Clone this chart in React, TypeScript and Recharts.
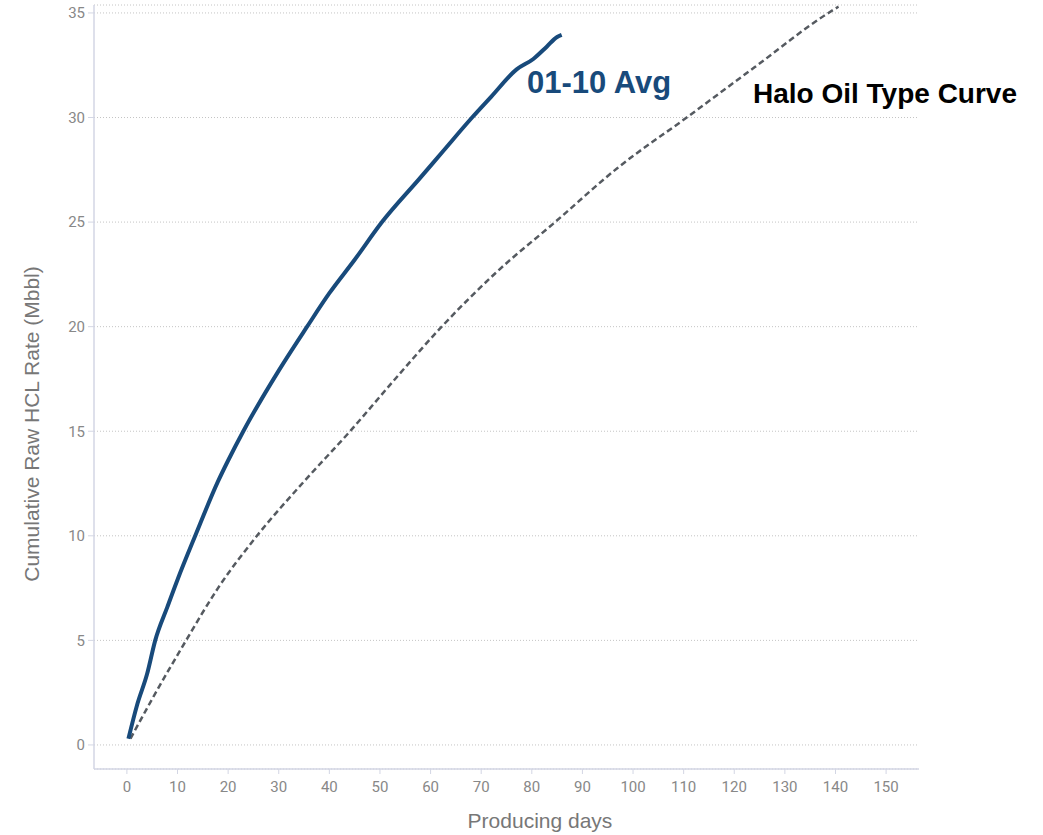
import * as React from "react";
import { LineChart, Line, XAxis, YAxis, CartesianGrid } from "recharts";

// 01-10 average, cumulative (Mbbl) vs producing days
const avgDays = [0.3, 2, 4, 5.6, 8, 10, 13.5, 18, 20, 23, 30, 35.6, 40, 45, 50.4, 57.9, 62.5, 68.2, 72, 77, 80.3, 83, 85, 85.9];
const avgCum = [0.3, 1.9, 3.4, 5.0, 6.6, 7.9, 10.0, 12.6, 13.6, 15.0, 17.9, 20.0, 21.6, 23.2, 25.0, 27.1, 28.4, 30.0, 31.0, 32.3, 32.8, 33.4, 33.85, 33.95];

// Halo oil type curve
const typeDays = [0.7, 5, 11.7, 18, 25.7, 35, 44.1, 53, 62.2, 73, 84.6, 97, 110.6, 124, 138.6, 140.6];
const typeCum = [0.3, 2.2, 5.0, 7.5, 10.0, 12.6, 15.0, 17.5, 20.0, 22.6, 25.0, 27.6, 30.0, 32.4, 35.0, 35.3];

const xTicks = [0, 10, 20, 30, 40, 50, 60, 70, 80, 90, 100, 110, 120, 130, 140, 150];
const yTicks = [0, 5, 10, 15, 20, 25, 30, 35];

const avgData = avgDays.map((x, i) => ({ x, y: avgCum[i] }));
const typeData = typeDays.map((x, i) => ({ x, y: typeCum[i] }));

const W = 1043;
const H = 835;
const tick = { fill: "#888888", fontSize: 15, fontFamily: "Roboto, sans-serif" };
const axisLine = { stroke: "#d3d6e4", strokeWidth: 1.5 };
const labelFont = "'Liberation Sans', Arial, sans-serif";

export default function App() {
  return (
    <div style={{ position: "absolute", left: 0, top: 0, width: W, height: H, background: "white" }}>
      <LineChart width={W} height={H} margin={{ top: 5, right: 124, bottom: 26, left: 0 }}>
        <CartesianGrid vertical={false} stroke="#c4c4c4" strokeDasharray="1 2" />
        <XAxis
          type="number"
          dataKey="x"
          domain={[-6.5, 156.5]}
          ticks={xTicks}
          allowDataOverflow
          height={40}
          tick={tick}
          tickSize={5}
          tickMargin={7}
          axisLine={axisLine}
          tickLine={{ stroke: "#d3d6e4" }}
        />
        <YAxis
          type="number"
          domain={[-1.15, 35.38]}
          ticks={yTicks}
          allowDataOverflow
          width={94}
          tick={tick}
          tickSize={6}
          tickMargin={3}
          axisLine={axisLine}
          tickLine={{ stroke: "#d3d6e4" }}
        />
        <Line
          data={typeData}
          dataKey="y"
          type="monotone"
          stroke="#555a60"
          strokeWidth={2.5}
          strokeDasharray="6 3.5"
          dot={false}
          isAnimationActive={false}
        />
        <Line
          data={avgData}
          dataKey="y"
          type="monotone"
          stroke="#184a7b"
          strokeWidth={4}
          dot={false}
          isAnimationActive={false}
        />
      </LineChart>
      <svg width={W} height={H} style={{ position: "absolute", left: 0, top: 0, pointerEvents: "none" }}>
        <text x={527} y={93} fontFamily={labelFont} fontWeight="bold" fontSize={31} fill="#184a7b">
          01-10 Avg
        </text>
        <text x={753} y={103} fontFamily={labelFont} fontWeight="bold" fontSize={28} fill="#000000">
          Halo Oil Type Curve
        </text>
        <text x={540} y={828} textAnchor="middle" fontFamily={labelFont} fontSize={21} fill="#777777">
          Producing days
        </text>
        <text
          x={39}
          y={424}
          textAnchor="middle"
          transform="rotate(-90 39 424)"
          fontFamily={labelFont}
          fontSize={21}
          fill="#777777"
        >
          Cumulative Raw HCL Rate (Mbbl)
        </text>
      </svg>
    </div>
  );
}
